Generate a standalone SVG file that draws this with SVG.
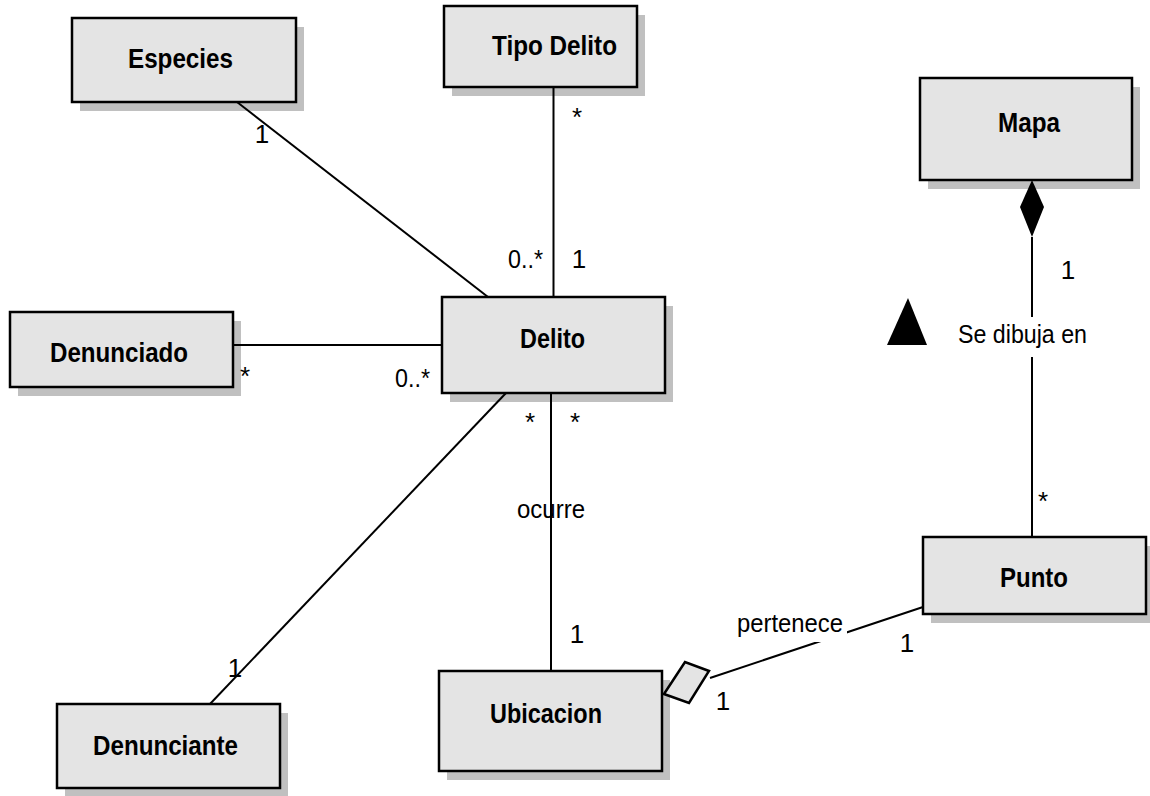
<svg xmlns="http://www.w3.org/2000/svg" width="1150" height="796" viewBox="0 0 1150 796">
<style>
.box{fill:#e4e4e4;stroke:#000;stroke-width:2.5}
.sh{fill:#c0c0c0}
.cls{font-family:"Liberation Sans",Arial,sans-serif;font-weight:bold;font-size:28px;fill:#000}
.lbl{font-family:"Liberation Sans",Arial,sans-serif;font-size:26px;fill:#000}
.ln{stroke:#000;stroke-width:2;fill:none}
.bg{fill:#fff}
</style>
<rect width="1150" height="796" fill="#fff"/>
<g id="especies"><rect class="sh" x="80" y="27" width="224" height="84"/><rect class="box" x="72" y="18" width="224" height="84"/><text class="cls" x="128" y="68" textLength="105" lengthAdjust="spacingAndGlyphs">Especies</text></g>
<g id="tipodelito"><rect class="sh" x="452" y="15" width="193" height="81"/><rect class="box" x="444" y="6" width="193" height="81"/><text class="cls" x="492" y="55" textLength="125" lengthAdjust="spacingAndGlyphs">Tipo Delito</text></g>
<g id="mapa"><rect class="sh" x="928" y="87" width="212" height="102"/><rect class="box" x="920" y="78" width="212" height="102"/><text class="cls" x="998" y="132" textLength="62" lengthAdjust="spacingAndGlyphs">Mapa</text></g>
<g id="denunciado"><rect class="sh" x="18" y="321" width="223" height="75"/><rect class="box" x="10" y="312" width="223" height="75"/><text class="cls" x="50" y="362" textLength="138" lengthAdjust="spacingAndGlyphs">Denunciado</text></g>
<g id="delito"><rect class="sh" x="450" y="306" width="223" height="96"/><rect class="box" x="442" y="297" width="223" height="96"/><text class="cls" x="520" y="348" textLength="65" lengthAdjust="spacingAndGlyphs">Delito</text></g>
<g id="ubicacion"><rect class="sh" x="447" y="680" width="223" height="100"/><rect class="box" x="439" y="671" width="223" height="100"/><text class="cls" x="490" y="723" textLength="112" lengthAdjust="spacingAndGlyphs">Ubicacion</text></g>
<g id="punto"><rect class="sh" x="931" y="546" width="223" height="77"/><rect class="box" x="923" y="537" width="223" height="77"/><text class="cls" x="1000" y="587" textLength="68" lengthAdjust="spacingAndGlyphs">Punto</text></g>
<g id="denunciante"><rect class="sh" x="65" y="713" width="223" height="84"/><rect class="box" x="57" y="704" width="223" height="84"/><text class="cls" x="93" y="755" textLength="145" lengthAdjust="spacingAndGlyphs">Denunciante</text></g>
<g id="connectors">
<line class="ln" x1="237" y1="102" x2="488" y2="297"/>
<line class="ln" x1="553.5" y1="87" x2="553.5" y2="297"/>
<line class="ln" x1="233" y1="345" x2="442" y2="345"/>
<line class="ln" x1="506" y1="393" x2="210" y2="704"/>
<line class="ln" x1="551" y1="393" x2="551" y2="671"/>
<line class="ln" x1="710" y1="678" x2="923" y2="607"/>
<polygon points="664,694 685,662 709,671 689,703" fill="#e4e4e4" stroke="#000" stroke-width="2.5"/>
<line class="ln" x1="1032" y1="237" x2="1032" y2="537"/>
<polygon points="1032,180 1044,207 1032,237 1020,207" fill="#000"/>
<polygon points="908,298 927,345 887,345" fill="#000"/>
<rect class="bg" x="955" y="317" width="135" height="40"/>
<text class="lbl" x="958" y="343" textLength="129" lengthAdjust="spacingAndGlyphs">Se dibuja en</text>
<rect class="bg" x="735" y="612" width="112" height="30"/>
<text class="lbl" x="737" y="632" textLength="106" lengthAdjust="spacingAndGlyphs">pertenece</text>
<text class="lbl" x="517" y="518" textLength="68" lengthAdjust="spacingAndGlyphs">ocurre</text>
<text class="lbl" x="262" y="143" text-anchor="middle">1</text>
<text class="lbl" x="577" y="126" text-anchor="middle">*</text>
<text class="lbl" x="508" y="268" textLength="35" lengthAdjust="spacingAndGlyphs">0..*</text>
<text class="lbl" x="579" y="268" text-anchor="middle">1</text>
<text class="lbl" x="245" y="385" text-anchor="middle">*</text>
<text class="lbl" x="395" y="387" textLength="35" lengthAdjust="spacingAndGlyphs">0..*</text>
<text class="lbl" x="530" y="431" text-anchor="middle">*</text>
<text class="lbl" x="575" y="431" text-anchor="middle">*</text>
<text class="lbl" x="577" y="643" text-anchor="middle">1</text>
<text class="lbl" x="235" y="677" text-anchor="middle">1</text>
<text class="lbl" x="907" y="652" text-anchor="middle">1</text>
<text class="lbl" x="723" y="710" text-anchor="middle">1</text>
<text class="lbl" x="1068" y="279" text-anchor="middle">1</text>
<text class="lbl" x="1043" y="510" text-anchor="middle">*</text>
</g>
</svg>
